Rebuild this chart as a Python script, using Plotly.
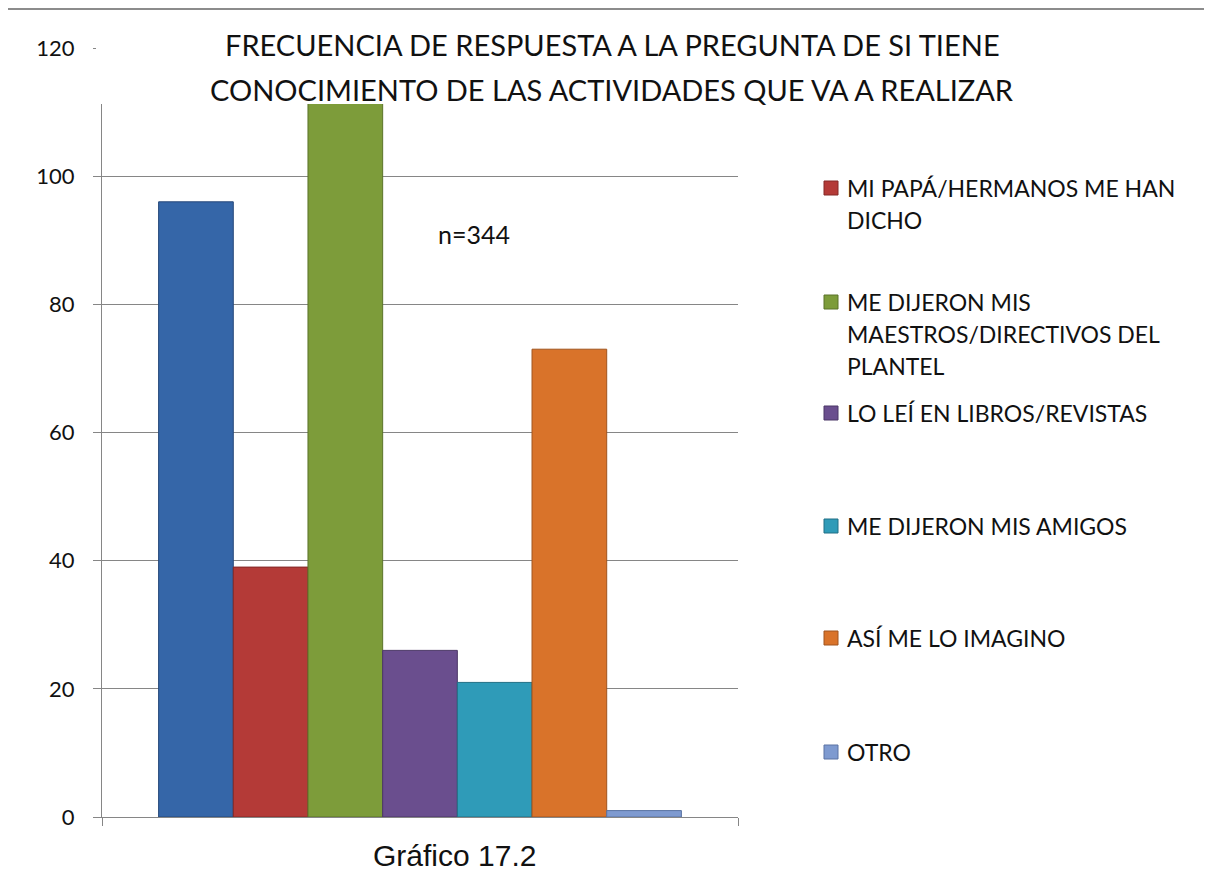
import plotly.graph_objects as go

# ---- data ----
categories = ["MI PAPÁ/MAMÁ", "MI PAPÁ/HERMANOS ME HAN DICHO",
              "ME DIJERON MIS MAESTROS/DIRECTIVOS DEL PLANTEL",
              "LO LEÍ EN LIBROS/REVISTAS", "ME DIJERON MIS AMIGOS",
              "ASÍ ME LO IMAGINO", "OTRO"]
values = [96, 39, 115, 26, 21, 73, 1]
legend_lines = [
    None,
    ["MI PAPÁ/HERMANOS ME HAN", "DICHO"],
    ["ME DIJERON MIS", "MAESTROS/DIRECTIVOS DEL", "PLANTEL"],
    ["LO LEÍ EN LIBROS/REVISTAS"],
    ["ME DIJERON MIS AMIGOS"],
    ["ASÍ ME LO IMAGINO"],
    ["OTRO"],
]
colors = ["#3566A8", "#B43A37", "#7D9C3A", "#6A4E8E", "#2F9BB8", "#D9732A", "#7E9AD0"]
edge = ["#27497A", "#842826", "#5B7329", "#4B3766", "#216F85", "#A0541E", "#5A73A3"]
y_ticks = [0, 20, 40, 60, 80, 100, 120]
title_lines = ["FRECUENCIA DE RESPUESTA A LA PREGUNTA DE SI TIENE",
               "CONOCIMIENTO DE LAS ACTIVIDADES QUE VA A REALIZAR"]
n_label = "n=344"
caption = "Gráfico 17.2"

OFF = 8  # page body margin
W, H = 1212 - OFF, 875 - OFF
L, R, T, B = 102 - OFF, 738 - OFF, 48 - OFF, 817 - OFF


def X(px):
    return (px - OFF - L) / (R - L)


def Y(py):
    return (B - (py - OFF)) / (B - T)


FONT = "Lato"
fig = go.Figure()
for i, (c, v) in enumerate(zip(categories, values)):
    fig.add_trace(go.Bar(x=[0], y=[v], name=c, marker_color=colors[i],
                         marker_line_color=edge[i], marker_line_width=1,
                         showlegend=False))

shapes = []
# white box behind title (covers top of chart)
shapes.append(dict(type="rect", xref="paper", yref="paper", x0=X(96), x1=X(1230),
                   y0=Y(104), y1=Y(10), fillcolor="white", line_width=0, layer="above"))
# outer frame
shapes.append(dict(type="rect", xref="paper", yref="paper", x0=X(7), x1=X(1250),
                   y0=Y(920), y1=Y(9), line=dict(color="#8C8C8C", width=2),
                   fillcolor="rgba(0,0,0,0)", layer="above"))

annotations = []
for k, t in enumerate(title_lines):
    annotations.append(dict(text=t, xref="paper", yref="paper", x=X(612), y=Y(45 + 45 * k),
                            xanchor="center", yanchor="middle", showarrow=False,
                            font=dict(family=FONT, size=29, color="#111111")))
annotations.append(dict(text=n_label, xref="paper", yref="paper", x=X(436), y=Y(234),
                        xanchor="left", yanchor="middle", showarrow=False,
                        font=dict(family=FONT, size=25, color="#111111")))
annotations.append(dict(text=caption, xref="paper", yref="paper", x=X(454), y=Y(855),
                        xanchor="center", yanchor="middle", showarrow=False,
                        font=dict(family="Liberation Sans", size=30, color="#111111")))

legend_y = [None, 188, 302, 413, 526, 638, 752]
for i, lines in enumerate(legend_lines):
    if lines is None:
        continue
    c = legend_y[i]
    shapes.append(dict(type="rect", xref="paper", yref="paper", x0=X(824), x1=X(838),
                       y0=Y(c + 7), y1=Y(c - 7), fillcolor=colors[i],
                       line=dict(color=edge[i], width=1), layer="above"))
    for k, ln in enumerate(lines):
        annotations.append(dict(text=ln, xref="paper", yref="paper", x=X(845),
                                y=Y(c + 32 * k), xanchor="left", yanchor="middle",
                                showarrow=False,
                                font=dict(family=FONT, size=23, color="#111111")))

fig.update_layout(
    width=W, height=H,
    margin=dict(l=L, r=W - R, t=T, b=H - B, pad=0),
    paper_bgcolor="white", plot_bgcolor="white",
    barmode="group", bargap=0.178, bargroupgap=0,
    shapes=shapes, annotations=annotations, showlegend=False,
    xaxis=dict(range=[-0.5, 0.5], tickvals=[-0.5, 0.5], showticklabels=False,
               ticks="outside", ticklen=8, tickcolor="#868686", showgrid=False,
               showline=True, linecolor="#868686", linewidth=1, zeroline=False),
    yaxis=dict(range=[0, 120], tickvals=y_ticks, ticks="outside", ticklen=8,
               tickcolor="#868686", showgrid=True, gridcolor="#868686", gridwidth=1,
               showline=True, linecolor="#868686", linewidth=1, zeroline=False,
               tickfont=dict(family=FONT, size=22, color="#111111"), ticklabelstandoff=14),
)

fig.write_html("out.html")
